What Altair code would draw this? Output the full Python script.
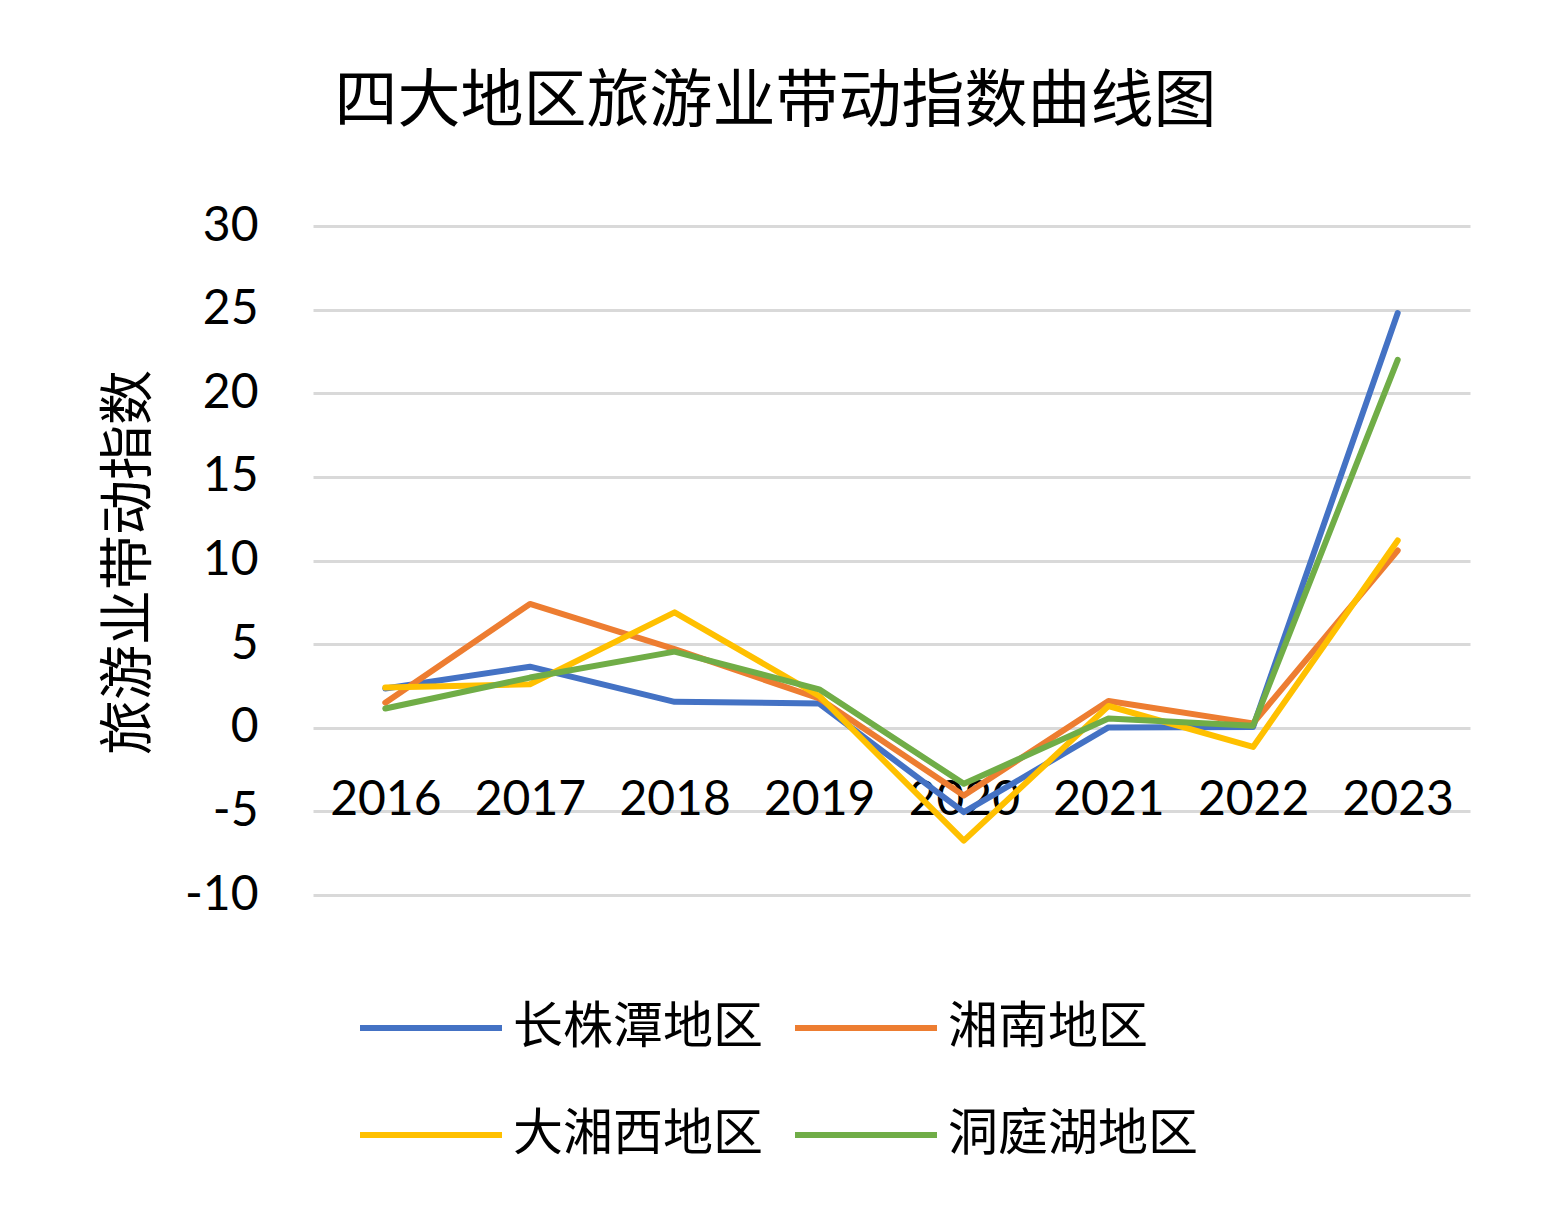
import altair as alt
import pandas as pd

years = ["2016", "2017", "2018", "2019", "2020", "2021", "2022", "2023"]
regions = ["长株潭地区", "湘南地区", "大湘西地区", "洞庭湖地区"]
cz_values = [2.35, 3.65, 1.55, 1.45, -5.05, 0.02, 0.05, 24.8]
xn_values = [1.5, 7.4, 4.7, 1.75, -4.05, 1.6, 0.26, 10.6]
dxx_values = [2.4, 2.6, 6.9, 1.9, -6.75, 1.3, -1.15, 11.2]
dth_values = [1.15, 3.0, 4.55, 2.3, -3.35, 0.55, 0.12, 22.0]
colors = ["#4472C4", "#ED7D31", "#FFC000", "#70AD47"]
y_ticks = [-10, -5, 0, 5, 10, 15, 20, 25, 30]

series = [cz_values, xn_values, dxx_values, dth_values]
rows = []
for r, vals in zip(regions, series):
    for y, v in zip(years, vals):
        rows.append({"年份": y, "地区": r, "指数": v})
df = pd.DataFrame(rows)

CJK = "Noto Sans CJK SC"
NUM = "Lato"

lines = alt.Chart(df).mark_line(strokeWidth=6, strokeCap="round", strokeJoin="round").encode(
    x=alt.X("年份:O", sort=years,
            scale=alt.Scale(type="point", padding=0.5),
            axis=alt.Axis(title=None, labelAngle=0, ticks=False, tickSize=0, domain=False,
                          grid=False, labelFont=NUM, labelFontSize=48, labelColor="#000000",
                          labelPadding=0, labelBaseline="middle", offset=-95)),
    y=alt.Y("指数:Q",
            scale=alt.Scale(domain=[-10, 30], nice=False),
            axis=alt.Axis(values=y_ticks, title="旅游业带动指数", ticks=False, tickSize=0,
                          domain=False, grid=True, gridColor="#D9D9D9", gridWidth=3,
                          labelExpr="datum.value + ''",
                          labelFont=NUM, labelFontSize=48, labelColor="#000000",
                          labelPadding=55,
                          titleFont=CJK, titleFontSize=55, titleFontWeight="normal",
                          titleColor="#000000", titleAngle=-90, titleX=-185, titleY=336,
                          titleAlign="center", titleBaseline="middle")),
    color=alt.Color("地区:N", sort=regions,
                    scale=alt.Scale(domain=regions, range=colors),
                    legend=alt.Legend(title=None, orient="none", legendX=44, legendY=728,
                                      direction="horizontal",
                                      columns=2, symbolType="stroke", symbolSize=20164,
                                      symbolStrokeWidth=6, labelFont=CJK, labelFontSize=50,
                                      labelColor="#000000", labelOffset=8, columnPadding=20,
                                      rowPadding=8, labelLimit=0)),
    order=alt.Order("年份:O"),
)

chart = lines.properties(
    width=1157,
    height=669,
    background="#FFFFFF",
    autosize=alt.AutoSizeParams(type="none"),
    padding={"left": 305, "top": 218, "right": 74, "bottom": 326},
    title=alt.TitleParams("四大地区旅游业带动指数曲线图", font=CJK, fontSize=63,
                          fontWeight="normal", color="#000000", anchor="middle",
                          dx=-116, offset=68),
).configure_view(strokeWidth=0, stroke=None)

chart.save("out.html", embed_options={"renderer": "svg", "actions": False})
